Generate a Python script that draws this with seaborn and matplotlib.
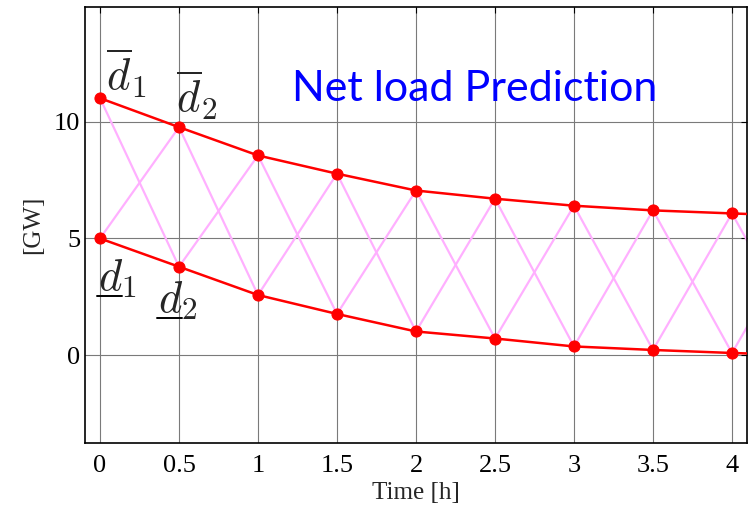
import numpy as np
import pandas as pd
import matplotlib
matplotlib.use("Agg")
import matplotlib.pyplot as plt
from matplotlib.lines import Line2D
import seaborn as sns

time_h = [0, 0.5, 1, 1.5, 2, 2.5, 3, 3.5, 4, 4.5]
upper_gw = [11.0, 9.76, 8.55, 7.77, 7.05, 6.7, 6.4, 6.2, 6.07, 5.95]
lower_gw = [5.0, 3.79, 2.58, 1.77, 1.02, 0.72, 0.38, 0.23, 0.1, 0.0]
xticks = [0, 0.5, 1, 1.5, 2, 2.5, 3, 3.5, 4]
yticks = [0, 5, 10]

sns.set_theme(style="white")
plt.rcParams['mathtext.fontset'] = 'cm'
plt.rcParams['font.family'] = ['Liberation Serif', 'DejaVu Serif']

fig = plt.figure(figsize=(7.53, 5.12), dpi=100)
ax = fig.add_axes([85/753, 1-443/512, (747-85)/753, (443-7)/512])

# zigzag crossing lines
zig_a = [upper_gw[i] if i % 2 == 0 else lower_gw[i] for i in range(len(time_h))]
zig_b = [lower_gw[i] if i % 2 == 0 else upper_gw[i] for i in range(len(time_h))]
pink = "#FFB0FF"
sns.lineplot(x=time_h, y=zig_a, ax=ax, color=pink, lw=1.6, sort=False, zorder=2)
sns.lineplot(x=time_h, y=zig_b, ax=ax, color=pink, lw=1.6, sort=False, zorder=2)

for series in (upper_gw, lower_gw):
    sns.lineplot(x=time_h, y=series, ax=ax, color="#FF0000", lw=1.8, marker="o",
                 markersize=8, markeredgecolor="#FF0000", zorder=3)

ax.set_xlim(-0.095, 4.095)
ax.set_ylim(-3.75, 14.9)
ax.set_xticks(xticks)
ax.set_xticklabels([f"{t:g}" for t in xticks])
ax.set_yticks(yticks)
ax.grid(True, color="#7a7a7a", lw=0.8)
ax.set_axisbelow(True)
ax.tick_params(direction="in", length=4, width=0.8, top=True, right=True,
               labelsize=19, colors="black")
ax.tick_params(axis="x", pad=9)
ax.tick_params(axis="y", pad=3.5)
for s in ax.spines.values():
    s.set_color("black")
    s.set_linewidth(1.2)

ax.set_xlabel("Time [h]", fontsize=18, labelpad=3)
ax.set_ylabel("[GW]", fontsize=18, labelpad=7)

ax.text(0.04, 11.34, r"$\overline{d}_1$", fontsize=32, va="baseline", ha="left")
ax.text(0.478, 10.40, r"$\overline{d}_2$", fontsize=32, va="baseline", ha="left")

under_labels = [(-0.01, 2.79, "1"), (0.37, 1.85, "2")]
d_texts = []
for (lx, ly, sub) in under_labels:
    ax.text(lx, ly, r"$d_%s$" % sub, fontsize=32, va="baseline", ha="left")
    d_only = ax.text(lx, ly, r"$d$", fontsize=32, va="baseline", ha="left", alpha=0)
    d_texts.append((lx, ly, d_only))

ax.text(2.37, 10.87, "Net load Prediction", color="#0000FF", fontsize=31,
        family=["Lato", "DejaVu Sans"], ha="center", va="baseline")

fig.canvas.draw()
renderer = fig.canvas.get_renderer()
for (lx, ly, t) in d_texts:
    bb = t.get_window_extent(renderer)
    base = ax.transData.transform((lx, ly))
    yline = base[1] - 6
    inv = fig.transFigure.inverted()
    p0 = inv.transform((bb.x0 - 1, yline))
    p1 = inv.transform((bb.x1 - 2, yline))
    fig.add_artist(Line2D([p0[0], p1[0]], [p0[1], p1[1]], color="black", lw=1.4,
                          transform=fig.transFigure))

fig.savefig("out.png", dpi=100)
